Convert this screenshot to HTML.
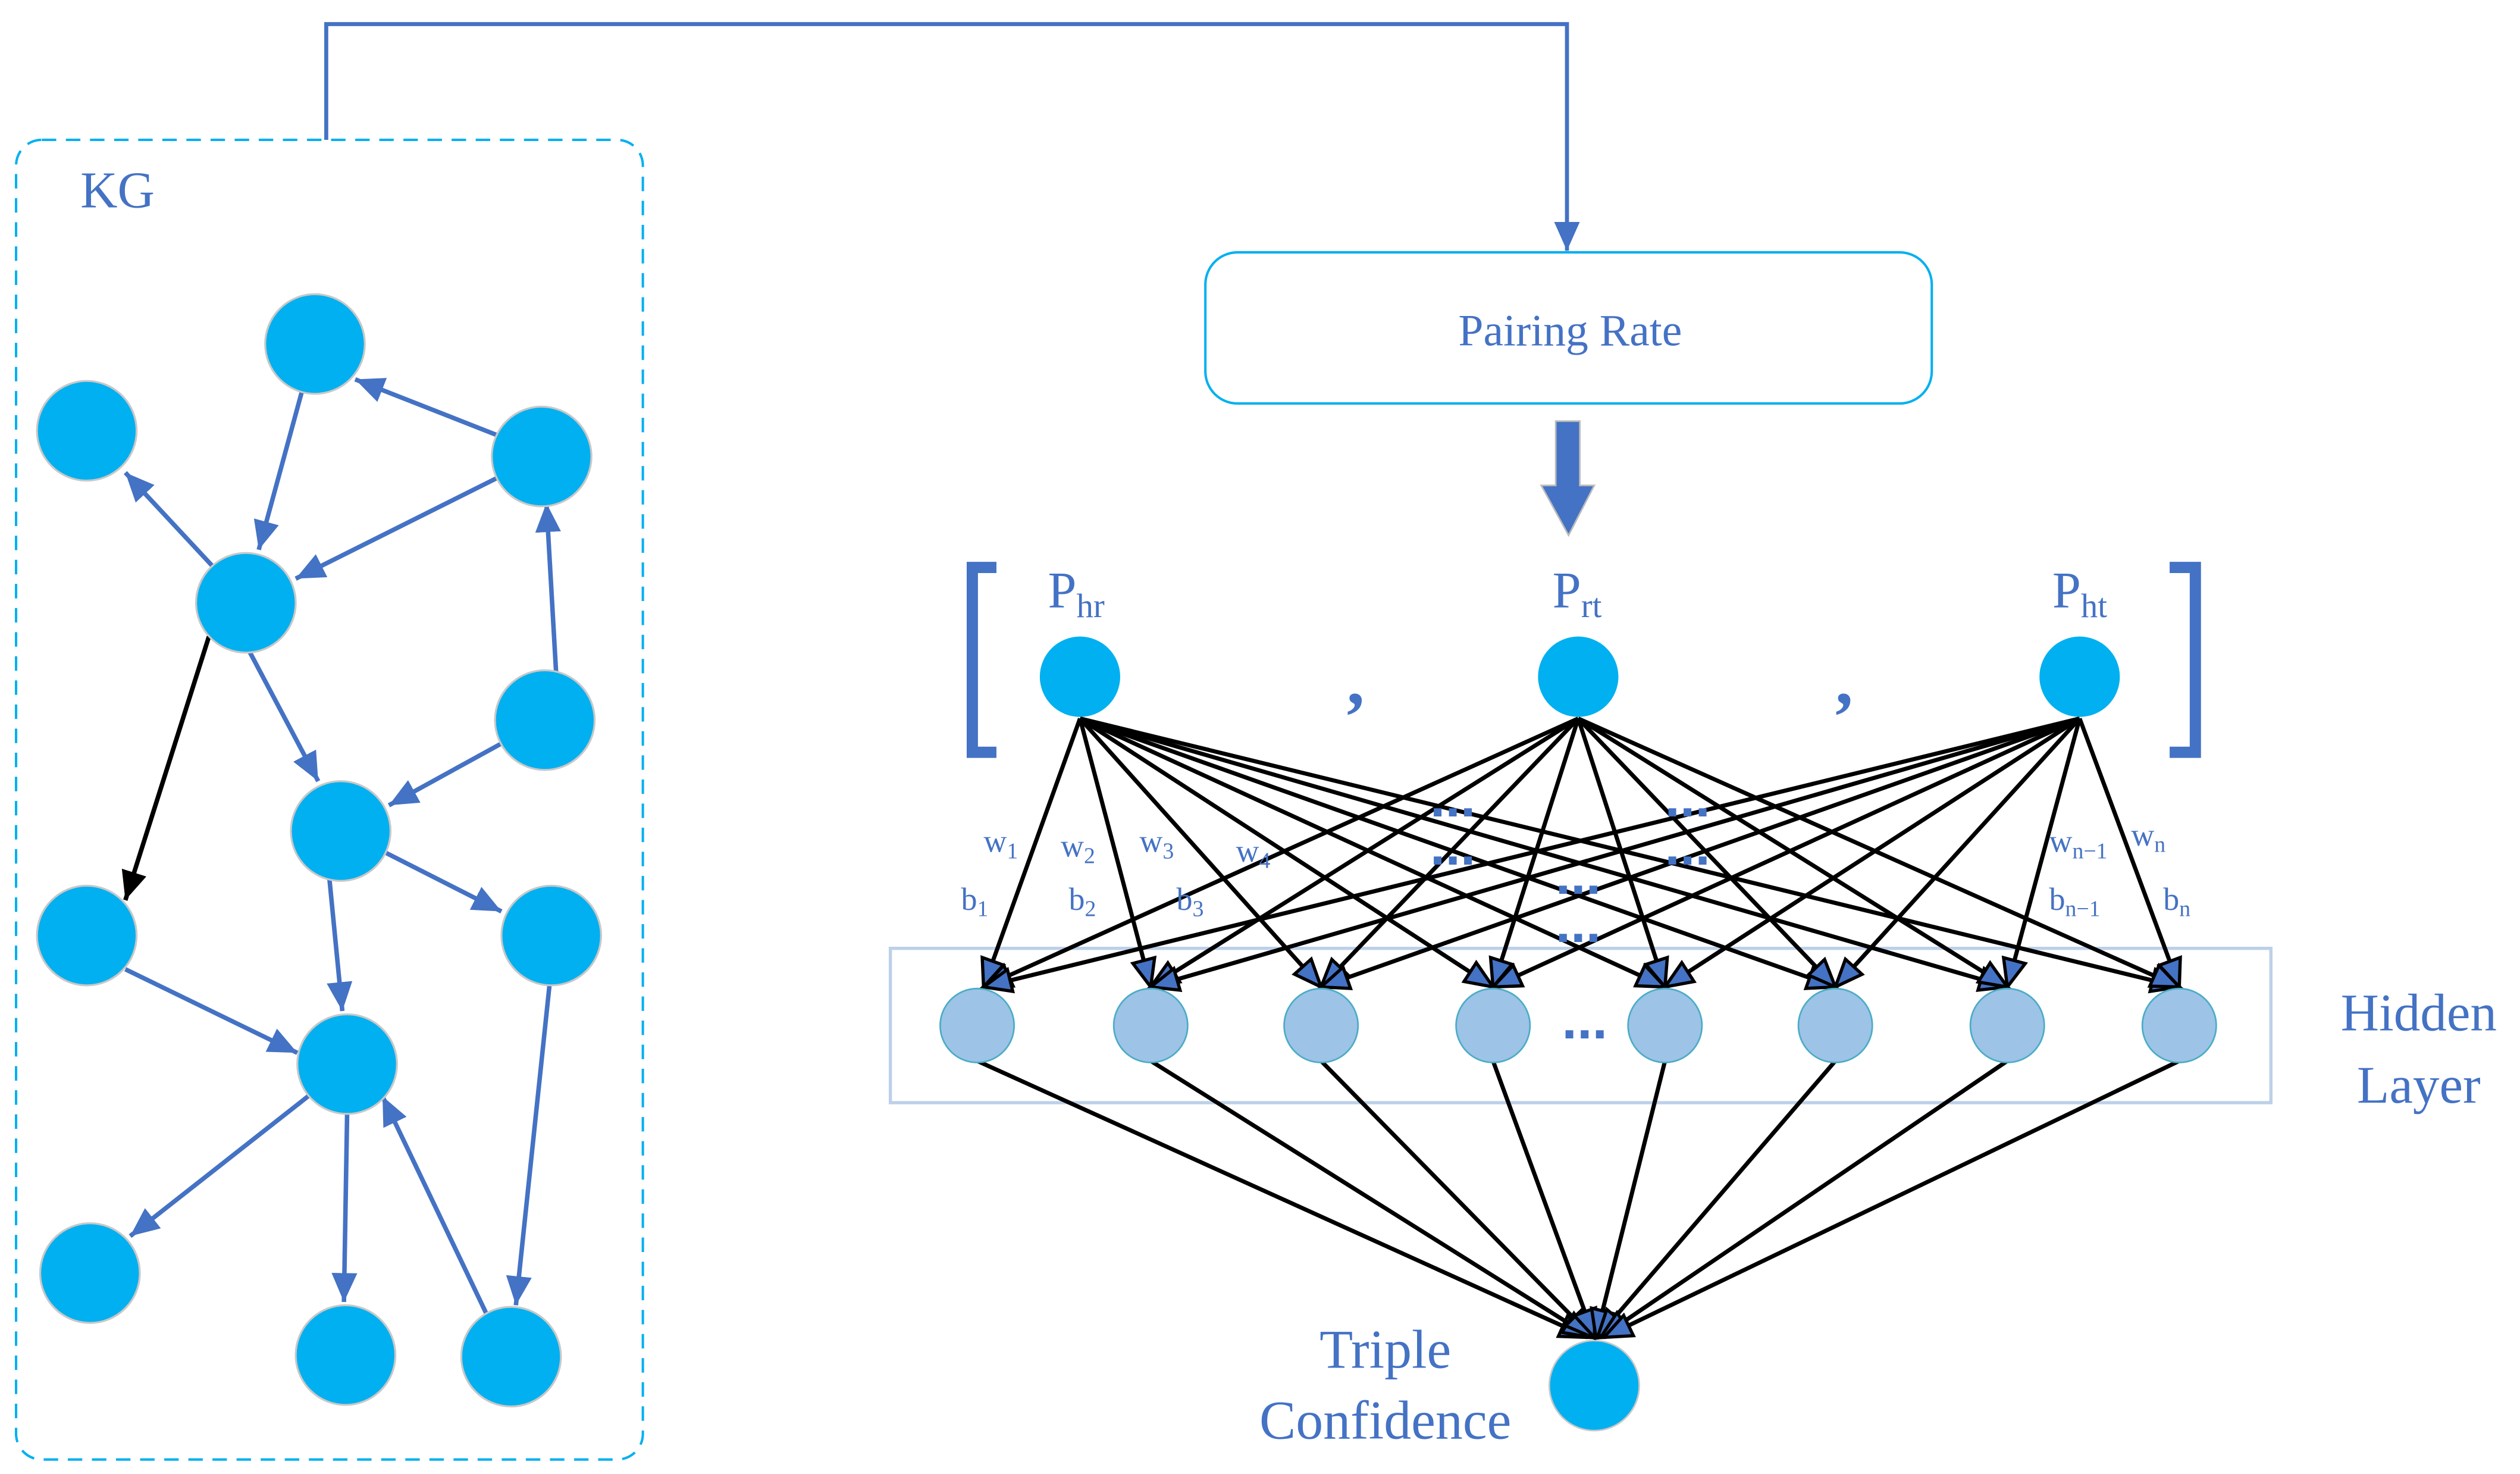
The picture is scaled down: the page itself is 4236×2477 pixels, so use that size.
<!DOCTYPE html>
<html><head><meta charset="utf-8"><style>html,body{margin:0;padding:0;background:#fff;}svg{display:block;}</style></head>
<body>
<svg width="4236" height="2477" viewBox="0 0 1568 917" preserveAspectRatio="none" xmlns="http://www.w3.org/2000/svg" font-family="Liberation Serif, serif">
<defs>
<marker id="ab" markerUnits="userSpaceOnUse" markerWidth="20" markerHeight="16" refX="18" refY="8" orient="auto"><path d="M0,0 L18,8 L0,16 Z" fill="#4472c4"/></marker>
<marker id="ak" markerUnits="userSpaceOnUse" markerWidth="20" markerHeight="16" refX="18" refY="8" orient="auto"><path d="M0,0 L18,8 L0,16 Z" fill="#000"/></marker>
<marker id="an" markerUnits="userSpaceOnUse" markerWidth="22" markerHeight="18" refX="18" refY="9" orient="auto"><path d="M1,2 L18,9 L1,16 Z" fill="#4472c4" stroke="#000" stroke-width="2"/></marker>
</defs>
<rect width="1568" height="917" fill="#fff"/>
<rect x="10" y="87" width="390" height="821" rx="16" fill="none" stroke="#00b0f0" stroke-width="1.5" stroke-dasharray="9,6"/>
<text x="50" y="129" font-size="32" fill="#4472c4">KG</text>
<polyline points="203,87 203,15 975,15 975,156" fill="none" stroke="#4472c4" stroke-width="2.5" marker-end="url(#ab)"/>
<rect x="750" y="157" width="452" height="94" rx="20" fill="#fff" stroke="#00b0f0" stroke-width="1.5"/>
<text x="977" y="215" font-size="28" fill="#4472c4" text-anchor="middle">Pairing Rate</text>
<path d="M968,262 L983,262 L983,302 L992,302 L976,333 L959,302 L968,302 Z" fill="#4472c4" stroke="#bbb" stroke-width="1"/>
<g stroke="#4472c4" stroke-width="2.8" fill="none" marker-end="url(#ab)">
<line x1="188" y1="243" x2="161" y2="342"/>
<line x1="310" y1="271" x2="221" y2="236"/>
<line x1="133" y1="353" x2="78" y2="294"/>
<line x1="310" y1="297" x2="184" y2="360"/>
<line x1="346" y1="418" x2="340" y2="313"/>
<line x1="154" y1="403" x2="198" y2="486"/>
<line x1="313" y1="462" x2="242" y2="501"/>
<line x1="239" y1="530" x2="312" y2="567"/>
<line x1="205" y1="547" x2="213" y2="629"/>
<line x1="78" y1="603" x2="185" y2="655"/>
<line x1="193" y1="681" x2="81" y2="769"/>
<line x1="216" y1="692" x2="214" y2="810"/>
<line x1="303" y1="818" x2="238" y2="682"/>
<line x1="342" y1="612" x2="321" y2="812"/>
</g>
<line x1="130" y1="396" x2="78" y2="560" stroke="#000" stroke-width="2.8" marker-end="url(#ak)"/>
<g fill="#00b0f0" stroke="#c8c8c8" stroke-width="1.2">
<circle cx="196" cy="214" r="31"/><circle cx="54" cy="268" r="31"/><circle cx="337" cy="284" r="31"/>
<circle cx="153" cy="375" r="31"/><circle cx="339" cy="448" r="31"/><circle cx="212" cy="517" r="31"/>
<circle cx="54" cy="582" r="31"/><circle cx="343" cy="582" r="31"/><circle cx="216" cy="662" r="31"/>
<circle cx="56" cy="792" r="31"/><circle cx="215" cy="843" r="31"/><circle cx="318" cy="844" r="31"/>
</g>
<path d="M620,353 L605,353 L605,468 L620,468" fill="none" stroke="#4472c4" stroke-width="7"/>
<path d="M1350,353 L1366,353 L1366,468 L1350,468" fill="none" stroke="#4472c4" stroke-width="7"/>
<g fill="#4472c4" font-size="32">
<text x="652" y="378">P<tspan font-size="21" dy="6">hr</tspan></text>
<text x="966" y="378">P<tspan font-size="21" dy="6">rt</tspan></text>
<text x="1277" y="378">P<tspan font-size="21" dy="6">ht</tspan></text>
</g>
<g fill="#4472c4" font-size="44" font-weight="bold"><text x="838" y="438">,</text><text x="1142" y="438">,</text></g>
<rect x="554" y="590" width="859" height="96" fill="none" stroke="#bdd0e9" stroke-width="2"/>
<text x="1505" y="641" font-size="33" fill="#4472c4" text-anchor="middle">Hidden</text>
<text x="1505" y="686" font-size="33" fill="#4472c4" text-anchor="middle">Layer</text>
<g stroke="#000" stroke-width="2.6" marker-end="url(#an)">
<line x1="672" y1="447" x2="612" y2="614"/><line x1="672" y1="447" x2="716" y2="614"/><line x1="672" y1="447" x2="822" y2="614"/><line x1="672" y1="447" x2="929" y2="614"/><line x1="672" y1="447" x2="1036" y2="614"/><line x1="672" y1="447" x2="1142" y2="614"/><line x1="672" y1="447" x2="1249" y2="614"/><line x1="672" y1="447" x2="1356" y2="614"/>
<line x1="982" y1="447" x2="612" y2="614"/><line x1="982" y1="447" x2="716" y2="614"/><line x1="982" y1="447" x2="822" y2="614"/><line x1="982" y1="447" x2="929" y2="614"/><line x1="982" y1="447" x2="1036" y2="614"/><line x1="982" y1="447" x2="1142" y2="614"/><line x1="982" y1="447" x2="1249" y2="614"/><line x1="982" y1="447" x2="1356" y2="614"/>
<line x1="1294" y1="447" x2="612" y2="614"/><line x1="1294" y1="447" x2="716" y2="614"/><line x1="1294" y1="447" x2="822" y2="614"/><line x1="1294" y1="447" x2="929" y2="614"/><line x1="1294" y1="447" x2="1036" y2="614"/><line x1="1294" y1="447" x2="1142" y2="614"/><line x1="1294" y1="447" x2="1249" y2="614"/><line x1="1294" y1="447" x2="1356" y2="614"/>
</g>
<g fill="#00b0f0"><circle cx="672" cy="421" r="25"/><circle cx="982" cy="421" r="25"/><circle cx="1294" cy="421" r="25"/></g>
<g fill="#4472c4" font-size="34" font-weight="bold" font-family="Liberation Sans, sans-serif" text-anchor="middle">
<text x="904" y="508">...</text><text x="1050" y="508">...</text>
<text x="904" y="538">...</text><text x="1050" y="538">...</text>
<text x="982" y="556">...</text><text x="982" y="586">...</text><text x="986" y="646">...</text>
</g>
<g fill="#4472c4" font-size="20">
<text x="612" y="530">w<tspan font-size="14" dy="4">1</tspan></text>
<text x="660" y="533">w<tspan font-size="14" dy="4">2</tspan></text>
<text x="709" y="530">w<tspan font-size="14" dy="4">3</tspan></text>
<text x="769" y="536">w<tspan font-size="14" dy="4">4</tspan></text>
<text x="598" y="566">b<tspan font-size="14" dy="4">1</tspan></text>
<text x="665" y="566">b<tspan font-size="14" dy="4">2</tspan></text>
<text x="732" y="566">b<tspan font-size="14" dy="4">3</tspan></text>
<text x="1275" y="530">w<tspan font-size="14" dy="4">n−1</tspan></text>
<text x="1326" y="526">w<tspan font-size="14" dy="4">n</tspan></text>
<text x="1275" y="566">b<tspan font-size="14" dy="4">n−1</tspan></text>
<text x="1346" y="566">b<tspan font-size="14" dy="4">n</tspan></text>
</g>
<g stroke="#000" stroke-width="2.6" marker-end="url(#an)">
<line x1="608" y1="660" x2="988" y2="832"/><line x1="716" y1="660" x2="990" y2="832"/><line x1="822" y1="660" x2="991" y2="832"/><line x1="929" y1="660" x2="992" y2="832"/><line x1="1036" y1="660" x2="993" y2="832"/><line x1="1142" y1="660" x2="994" y2="832"/><line x1="1249" y1="660" x2="996" y2="832"/><line x1="1356" y1="660" x2="998" y2="832"/>
</g>
<g fill="#9dc3e6" stroke="#4bacc6" stroke-width="1">
<circle cx="608" cy="638" r="23"/><circle cx="716" cy="638" r="23"/><circle cx="822" cy="638" r="23"/><circle cx="929" cy="638" r="23"/><circle cx="1036" cy="638" r="23"/><circle cx="1142" cy="638" r="23"/><circle cx="1249" cy="638" r="23"/><circle cx="1356" cy="638" r="23"/>
</g>
<circle cx="992" cy="862" r="28" fill="#00b0f0" stroke="#c8c8c8" stroke-width="1"/>
<text x="862" y="851" font-size="34" fill="#4472c4" text-anchor="middle">Triple</text>
<text x="862" y="895" font-size="34" fill="#4472c4" text-anchor="middle">Confidence</text>
</svg>
</body></html>
